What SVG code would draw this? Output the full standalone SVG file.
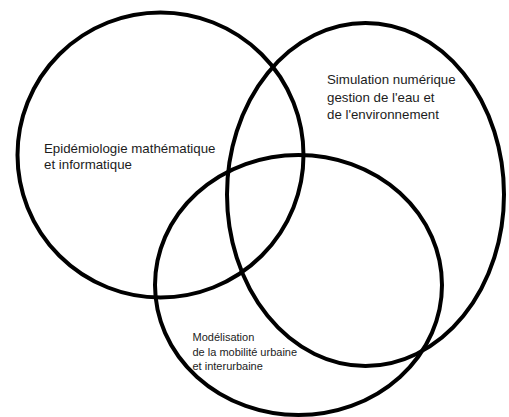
<svg xmlns="http://www.w3.org/2000/svg" width="509" height="417" viewBox="0 0 509 417">
  <style>
    .ring { fill: none; stroke: #000; stroke-width: 4; }
    .lbl { font-family: "Liberation Sans", Arial, sans-serif; fill: #1c1c1c; }
    .big { font-size: 13.3px; }
    .small { font-size: 11px; }
  </style>
  <rect x="0" y="0" width="509" height="417" fill="#fff"/>
  <g id="epidemiologie">
    <ellipse class="ring" cx="160.5" cy="155" rx="143" ry="142.5"/>
    <text class="lbl big" x="44" y="153">Epidémiologie mathématique</text>
    <text class="lbl big" x="44" y="169">et informatique</text>
  </g>
  <g id="simulation">
    <ellipse class="ring" cx="365.5" cy="194.5" rx="138.5" ry="171.5"/>
    <text class="lbl big" x="327" y="84">Simulation numérique</text>
    <text class="lbl big" x="327" y="101.5">gestion de l'eau et</text>
    <text class="lbl big" x="327" y="119">de l'environnement</text>
  </g>
  <g id="mobilite">
    <ellipse class="ring" cx="298.5" cy="285" rx="143.5" ry="130"/>
    <text class="lbl small" x="192.5" y="341">Modélisation</text>
    <text class="lbl small" x="192.5" y="355.5">de la mobilité urbaine</text>
    <text class="lbl small" x="192.5" y="370">et interurbaine</text>
  </g>
</svg>
